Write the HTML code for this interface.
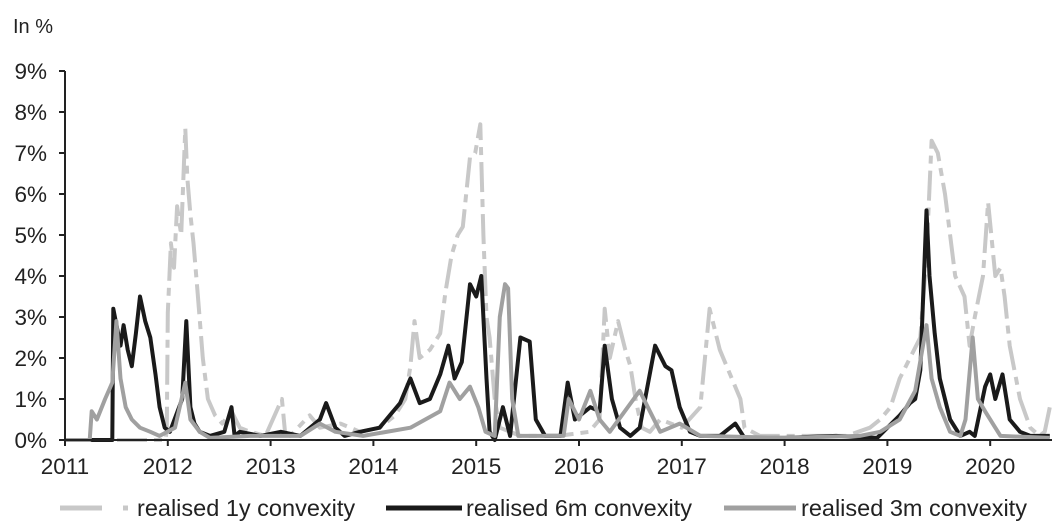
<!DOCTYPE html>
<html><head><meta charset="utf-8"><style>
body{margin:0;background:#fff;}
svg{display:block;font-family:"Liberation Sans",sans-serif;}
</style></head><body>
<svg id="chart" width="1056" height="528" viewBox="0 0 1056 528">
<text x="13" y="33" font-size="20" fill="#222">In %</text>
<g id="series"></g>
<g id="axes"></g>
<g>
  <g>
    <line x1="60" y1="508" x2="128" y2="508" stroke="#c8c8c8" stroke-width="5" stroke-dasharray="42 21 5 30"/>
    <text x="137" y="516" font-size="23.5" fill="#222">realised 1y convexity</text>
  </g>
  <g>
    <line x1="386" y1="508" x2="462" y2="508" stroke="#1a1a1a" stroke-width="5"/>
    <text x="466" y="516" font-size="23.5" fill="#222">realised 6m convexity</text>
  </g>
  <g>
    <line x1="724" y1="508" x2="796" y2="508" stroke="#a0a0a0" stroke-width="5"/>
    <text x="801" y="516" font-size="23.5" fill="#222">realised 3m convexity</text>
  </g>
</g>
</svg>
<script>
const yearTicks=[2011,2012,2013,2014,2015,2016,2017,2018,2019,2020];
const yTicks=[0,1,2,3,4,5,6,7,8,9];
const yTickLabels=["0%","1%","2%","3%","4%","5%","6%","7%","8%","9%"];

const dates1y=[2011.00,2011.98,2011.99,2012.00,2012.03,2012.06,2012.09,2012.13,2012.17,2012.19,2012.22,2012.25,2012.29,2012.34,2012.39,2012.46,2012.53,2012.62,2012.70,2012.80,2012.95,2013.11,2013.14,2013.19,2013.38,2013.48,2013.68,2013.87,2014.06,2014.21,2014.31,2014.36,2014.40,2014.45,2014.55,2014.65,2014.70,2014.76,2014.82,2014.87,2014.94,2014.99,2015.04,2015.07,2015.10,2015.13,2015.18,2015.23,2015.43,2015.80,2016.10,2016.20,2016.25,2016.30,2016.38,2016.45,2016.50,2016.55,2016.61,2016.69,2016.79,2017.00,2017.18,2017.27,2017.37,2017.47,2017.57,2017.61,2017.76,2018.20,2018.60,2018.83,2018.93,2019.03,2019.12,2019.22,2019.32,2019.38,2019.43,2019.49,2019.56,2019.66,2019.75,2019.80,2019.85,2019.93,2019.98,2020.05,2020.10,2020.14,2020.19,2020.29,2020.39,2020.48,2020.53,2020.58];
const values1y=[0,0,0.3,3.1,4.8,4.2,5.7,5.0,7.6,6.4,5.5,4.8,3.6,2.0,1.0,0.6,0.4,0.7,0.3,0.2,0.1,1.0,0.2,0.1,0.6,0.3,0.4,0.2,0.3,0.6,1.0,1.8,2.9,2.0,2.2,2.6,3.6,4.5,5.0,5.2,6.9,7.0,7.7,5.0,3.0,2.5,1.0,0.3,0.1,0.1,0.2,0.5,3.2,2.0,2.9,2.2,1.8,1.0,0.3,0.2,0.5,0.3,0.8,3.2,2.2,1.6,1.0,0.3,0.1,0.1,0.1,0.3,0.5,0.8,1.5,2.0,2.5,4.5,7.3,7.0,6.0,4.0,3.5,2.3,3.0,4.0,5.8,4.0,4.2,3.5,2.3,1.0,0.3,0.1,0.2,0.8,1.5];

const dates6m=[2011.00,2011.34,2011.46,2011.47,2011.54,2011.57,2011.61,2011.65,2011.69,2011.73,2011.78,2011.83,2011.88,2011.92,2011.97,2012.02,2012.08,2012.14,2012.18,2012.22,2012.26,2012.31,2012.41,2012.55,2012.62,2012.65,2012.70,2012.90,2013.10,2013.29,2013.48,2013.54,2013.63,2013.72,2013.87,2014.06,2014.16,2014.26,2014.36,2014.45,2014.55,2014.65,2014.73,2014.79,2014.86,2014.94,2015.00,2015.05,2015.10,2015.13,2015.18,2015.26,2015.33,2015.43,2015.52,2015.58,2015.67,2015.82,2015.89,2015.96,2016.11,2016.20,2016.25,2016.32,2016.40,2016.50,2016.59,2016.74,2016.84,2016.90,2016.98,2017.08,2017.18,2017.37,2017.52,2017.61,2018.00,2018.50,2018.90,2019.12,2019.22,2019.27,2019.32,2019.38,2019.41,2019.46,2019.51,2019.61,2019.71,2019.80,2019.85,2019.95,2020.00,2020.05,2020.12,2020.19,2020.29,2020.39,2020.58];
const values6m=[0,0,0,3.2,2.3,2.8,2.2,1.8,2.6,3.5,2.9,2.5,1.6,0.8,0.3,0.2,0.6,1.0,2.9,0.8,0.4,0.2,0.1,0.2,0.8,0.1,0.2,0.1,0.2,0.1,0.5,0.9,0.3,0.1,0.2,0.3,0.6,0.9,1.5,0.9,1.0,1.6,2.3,1.5,1.9,3.8,3.5,4.0,1.5,0.2,0.0,0.8,0.1,2.5,2.4,0.5,0.1,0.1,1.4,0.5,0.8,0.7,2.3,1.0,0.3,0.1,0.3,2.3,1.8,1.7,0.8,0.2,0.1,0.1,0.4,0.05,0.05,0.1,0.05,0.6,0.9,1.0,1.7,5.6,4.0,2.6,1.5,0.5,0.1,0.2,0.1,1.3,1.6,1.0,1.6,0.5,0.2,0.1,0.1];

const dates3m=[2011.00,2011.24,2011.26,2011.31,2011.39,2011.46,2011.50,2011.54,2011.59,2011.65,2011.73,2011.83,2011.92,2012.07,2012.17,2012.22,2012.31,2012.41,2012.80,2013.29,2013.48,2013.63,2013.90,2014.36,2014.65,2014.74,2014.84,2014.94,2015.02,2015.09,2015.18,2015.23,2015.28,2015.31,2015.35,2015.41,2015.85,2015.90,2016.00,2016.11,2016.20,2016.30,2016.59,2016.69,2016.79,2016.98,2017.18,2018.00,2018.73,2018.93,2019.12,2019.27,2019.38,2019.43,2019.51,2019.61,2019.71,2019.76,2019.83,2019.88,2019.95,2020.05,2020.10,2020.58];
const values3m=[0,0,0.7,0.5,1.0,1.4,2.9,1.5,0.8,0.5,0.3,0.2,0.1,0.3,1.4,0.5,0.2,0.05,0.1,0.1,0.4,0.2,0.1,0.3,0.7,1.4,1.0,1.3,0.8,0.2,0.1,3.0,3.8,3.7,1.0,0.1,0.1,1.0,0.5,1.2,0.5,0.2,1.2,0.7,0.2,0.4,0.1,0.05,0.1,0.2,0.5,1.2,2.8,1.5,0.8,0.2,0.1,0.5,2.5,1.0,0.7,0.3,0.1,0.05];

const X0=65, YEARW=102.8, Y0=440, PCT=41;
function xScale(t){return X0+(t-2011)*YEARW;}
function yScale(v){return Y0-v*PCT;}
const NS="http://www.w3.org/2000/svg";
const seriesG=document.getElementById('series');
const axesG=document.getElementById('axes');

function drawLine(dates,vals,color,dash,name){
  const p=document.createElementNS(NS,'polyline');
  p.setAttribute('points',dates.map((d,i)=>xScale(d).toFixed(1)+','+yScale(vals[i]).toFixed(1)).join(' '));
  p.setAttribute('fill','none');
  p.setAttribute('stroke',color);
  p.setAttribute('stroke-width','4');
  p.setAttribute('stroke-linejoin','round');
  if(dash)p.setAttribute('stroke-dasharray',dash);
  
  
  seriesG.appendChild(p);
}
drawLine(dates1y,values1y,'#c8c8c8','30 7 8 7','series-1y-convexity');
drawLine(dates6m,values6m,'#1a1a1a',null,'series-6m-convexity');
drawLine(dates3m,values3m,'#a0a0a0',null,'series-3m-convexity');

const ya=document.createElementNS(NS,'line');
ya.setAttribute('x1',X0);ya.setAttribute('x2',X0);ya.setAttribute('y1',yScale(9));ya.setAttribute('y2',Y0);
ya.setAttribute('stroke','#222');ya.setAttribute('stroke-width','2');


axesG.appendChild(ya);
const xa=document.createElementNS(NS,'line');
xa.setAttribute('x1',X0);xa.setAttribute('x2',1052);xa.setAttribute('y1',Y0);xa.setAttribute('y2',Y0);
xa.setAttribute('stroke','#222');xa.setAttribute('stroke-width','2');


axesG.appendChild(xa);

yTicks.forEach((v,i)=>{
  const t=document.createElementNS(NS,'line');
  t.setAttribute('x1',X0-6);t.setAttribute('x2',X0);t.setAttribute('y1',yScale(v));t.setAttribute('y2',yScale(v));
  t.setAttribute('stroke','#222');t.setAttribute('stroke-width','2');
  
  
  axesG.appendChild(t);
  const l=document.createElementNS(NS,'text');
  l.setAttribute('x',47);l.setAttribute('y',yScale(v)+8);l.setAttribute('text-anchor','end');
  l.setAttribute('font-size','22.5');l.setAttribute('fill','#222');
  l.textContent=yTickLabels[i];
  
  
  axesG.appendChild(l);
});
yearTicks.forEach(y=>{
  const t=document.createElementNS(NS,'line');
  t.setAttribute('x1',xScale(y));t.setAttribute('x2',xScale(y));t.setAttribute('y1',Y0);t.setAttribute('y2',Y0+6);
  t.setAttribute('stroke','#222');t.setAttribute('stroke-width','2');
  
  
  axesG.appendChild(t);
  const l=document.createElementNS(NS,'text');
  l.setAttribute('x',xScale(y));l.setAttribute('y',474);l.setAttribute('text-anchor','middle');
  l.setAttribute('font-size','22.5');l.setAttribute('fill','#222');
  l.textContent=String(y);
  
  
  axesG.appendChild(l);
});
</script>
</body></html>
